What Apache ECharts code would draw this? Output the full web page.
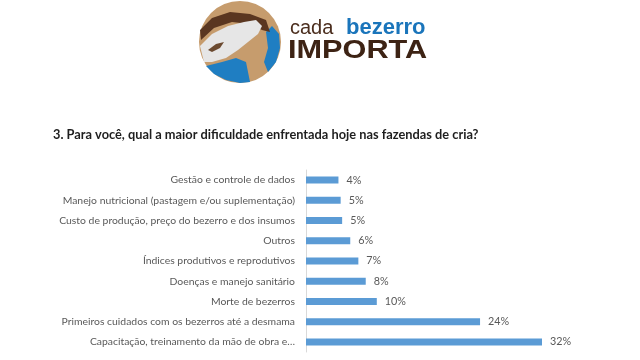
<!DOCTYPE html>
<html>
<head>
<meta charset="utf-8">
<script src="https://cdn.jsdelivr.net/npm/echarts@6/dist/echarts.min.js"></script>
<style>
  html, body { margin: 0; padding: 0; background: #fff; }
  #main { width: 640px; height: 360px; }
</style>
</head>
<body>
<div id="main"></div>
<script>
// dados (de cima para baixo)
var categorias = [
  "Gestão e controle de dados",
  "Manejo nutricional (pastagem e/ou suplementação)",
  "Custo de produção, preço do bezerro e dos insumos",
  "Outros",
  "Índices produtivos e reprodutivos",
  "Doenças e manejo sanitário",
  "Morte de bezerros",
  "Primeiros cuidados com os bezerros até a desmama",
  "Capacitação, treinamento da mão de obra e…"
];
var valores = [4.4, 4.7, 4.9, 6.0, 7.1, 8.1, 9.6, 23.6, 32.0];
var rotulos = ["4%", "5%", "5%", "6%", "7%", "8%", "10%", "24%", "32%"];

var titulo = "3. Para você, qual a maior dificuldade enfrentada hoje nas fazendas de cria?";

var chart = echarts.init(document.getElementById("main"));
chart.setOption({
  animation: false,
  title: {
    text: titulo,
    left: 48,
    top: 123,
    textStyle: {
      fontFamily: "Lato",
      fontWeight: "bold",
      fontSize: 12.8,
      color: "#1e1e1e"
    }
  },
  grid: {
    left: 306,
    top: 170,
    width: 295,
    height: 182
  },
  xAxis: {
    type: "value",
    min: 0,
    max: 40,
    show: false
  },
  yAxis: {
    type: "category",
    inverse: true,
    data: categorias,
    axisLine: { lineStyle: { color: "#d9d9d9" } },
    axisTick: { show: false },
    axisLabel: {
      margin: 11,
      fontFamily: "Lato",
      fontSize: 10.4,
      color: "#595959"
    }
  },
  series: [
    {
      type: "bar",
      data: valores,
      barWidth: 7,
      itemStyle: { color: "#5b9bd5" },
      label: {
        show: true,
        position: "right",
        distance: 8,
        fontFamily: "Lato",
        fontSize: 10.8,
        color: "#595959",
        formatter: function (p) { return rotulos[p.dataIndex]; }
      }
    }
  ],
  graphic: [
    // logo: círculo
    { type: "circle", shape: { cx: 240, cy: 42, r: 41 }, style: { fill: "#c69c6d" } },
    // água azul embaixo à esquerda
    { type: "polygon", shape: { points: [[206, 66], [222, 62], [236, 58], [246, 62], [250, 82], [240, 83], [226, 80], [214, 74]] }, style: { fill: "#1f7ec2" } },
    // faixa azul à direita
    { type: "polygon", shape: { points: [[266, 32], [272, 26], [279, 34], [280, 48], [276, 62], [268, 72], [264, 62], [268, 48]] }, style: { fill: "#1f7ec2" } },
    // faixa marrom no alto
    { type: "polygon", shape: { points: [[200, 30], [212, 18], [230, 12], [250, 14], [266, 20], [270, 32], [262, 30], [250, 24], [232, 22], [214, 28], [201, 40]] }, style: { fill: "#5a3620" } },
    // cabeça branca
    { type: "polygon", shape: { points: [[200, 46], [212, 34], [228, 26], [244, 22], [256, 20], [262, 26], [258, 34], [248, 42], [238, 50], [226, 58], [212, 62], [204, 62]] }, style: { fill: "#e6e6e6" } },
    { type: "polygon", shape: { points: [[208, 50], [216, 44], [224, 42], [220, 48], [212, 52]] }, style: { fill: "#6b4a30" } },
    // texto do logo
    { type: "text", x: 290, y: 28, style: { text: "cada", fontFamily: "Liberation Sans", fontSize: 20, fill: "#4b2e1e", verticalAlign: "middle" } },
    { type: "text", x: 346, y: 28, style: { text: "bezerro", fontFamily: "Liberation Sans", fontWeight: "bold", fontSize: 22, fill: "#1a75bb", verticalAlign: "middle" } },
    { type: "text", x: 288, y: 51, scaleX: 1.18, style: { text: "IMPORTA", fontFamily: "Liberation Sans", fontWeight: "bold", fontSize: 26, fill: "#3d2314", verticalAlign: "middle" } }
  ]
});
</script>
</body>
</html>
